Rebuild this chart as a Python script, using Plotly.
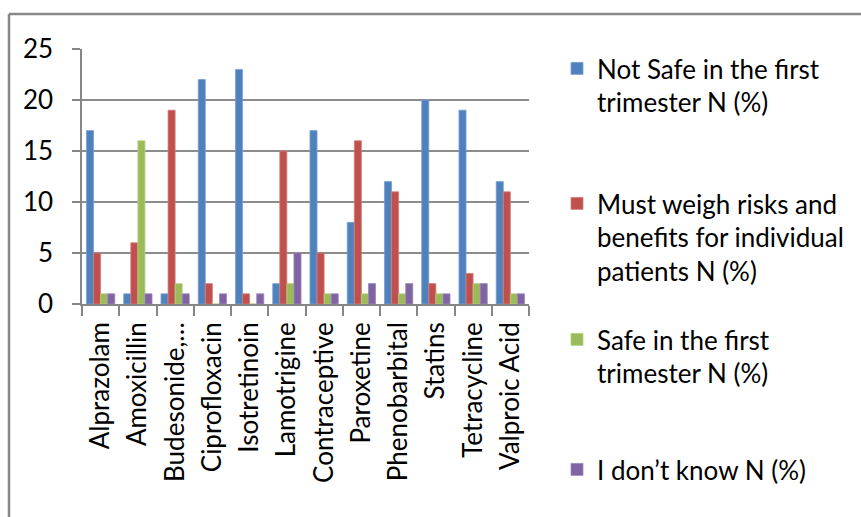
import plotly.graph_objects as go

# Drugs surveyed and the count of answers in each safety category
drugs = ["Alprazolam", "Amoxicillin", "Budesonide,…", "Ciprofloxacin", "Isotretinoin",
         "Lamotrigine", "Contraceptive", "Paroxetine", "Phenobarbital", "Statins",
         "Tetracycline", "Valproic Acid"]
not_safe = [17, 1, 1, 22, 23, 2, 17, 8, 12, 20, 19, 12]
weigh_risks = [5, 6, 19, 2, 1, 15, 5, 16, 11, 2, 3, 11]
safe = [1, 16, 2, 0, 0, 2, 1, 1, 1, 1, 2, 1]
dont_know = [1, 1, 1, 1, 1, 5, 1, 2, 2, 1, 2, 1]

series_names = [
    "Not Safe in the first<br>trimester N (%)",
    "Must weigh risks and<br>benefits for individual<br>patients N (%)",
    "Safe in the first<br>trimester N (%)",
    "I don’t know N (%)",
]
series_values = [not_safe, weigh_risks, safe, dont_know]
colors = ["#4F81BD", "#C0504D", "#9BBB59", "#8064A2"]
edges = ["#7A9FD1", "#D37D7A", "#B5CF85", "#9D87BC"]

W, H = 861, 517
L, R, T, B = 82, 332, 49, 213
pw, ph = W - L - R, H - T - B

def px_x(x):
    return (x - L) / pw

def px_y(y):
    return (H - B - y) / ph

FONT = "Lato"

fig = go.Figure()
legend_ids = ["legend", "legend2", "legend3", "legend4"]
for name, vals, col, edge, lg in zip(series_names, series_values, colors, edges, legend_ids):
    fig.add_trace(go.Bar(
        x=drugs, y=vals, name=name, legend=lg,
        marker=dict(color=col, line=dict(color=edge, width=0.8)),
    ))

legend_tops = [45, 180, 316, 446]
legend_common = dict(
    font=dict(family=FONT, size=26, color="#000000"),
    valign="top", bgcolor="rgba(0,0,0,0)", xanchor="left", yanchor="top",
    itemclick=False, itemdoubleclick=False,
)
layout_legends = {}
for lg, top in zip(legend_ids, legend_tops):
    layout_legends[lg] = dict(x=px_x(557), y=px_y(top), **legend_common)

fig.update_layout(
    width=W, height=H,
    margin=dict(l=L, r=R, t=T, b=B),
    paper_bgcolor="white", plot_bgcolor="white",
    barmode="group", bargap=0.24, bargroupgap=0,
    showlegend=True,
    font=dict(family=FONT, color="#000000"),
    xaxis=dict(
        type="category", tickangle=-90, tickson="boundaries",
        ticks="outside", ticklen=10, tickcolor="#868686", tickwidth=1.5,
        showline=True, linecolor="#868686", linewidth=1.5,
        showgrid=False, tickfont=dict(family=FONT, size=26, color="#000000"),
        ticklabelstandoff=6,
    ),
    yaxis=dict(
        range=[0, 25], dtick=5, tick0=0,
        ticks="outside", ticklen=8, tickcolor="#868686", tickwidth=1.5,
        showline=True, linecolor="#868686", linewidth=1.5,
        showgrid=True, gridcolor="#8C8C8C", gridwidth=1.5,
        zeroline=False,
        tickfont=dict(family=FONT, size=26, color="#000000"),
        ticklabelstandoff=14,
    ),
    shapes=[
        dict(type="line", xref="paper", yref="paper",
             x0=px_x(9), x1=px_x(W + 2), y0=px_y(14), y1=px_y(14),
             line=dict(color="#888888", width=2.5)),
        dict(type="line", xref="paper", yref="paper",
             x0=px_x(9), x1=px_x(9), y0=px_y(14), y1=px_y(H + 2),
             line=dict(color="#888888", width=2.5)),
    ],
    **layout_legends,
)

fig.write_html("out.html")
